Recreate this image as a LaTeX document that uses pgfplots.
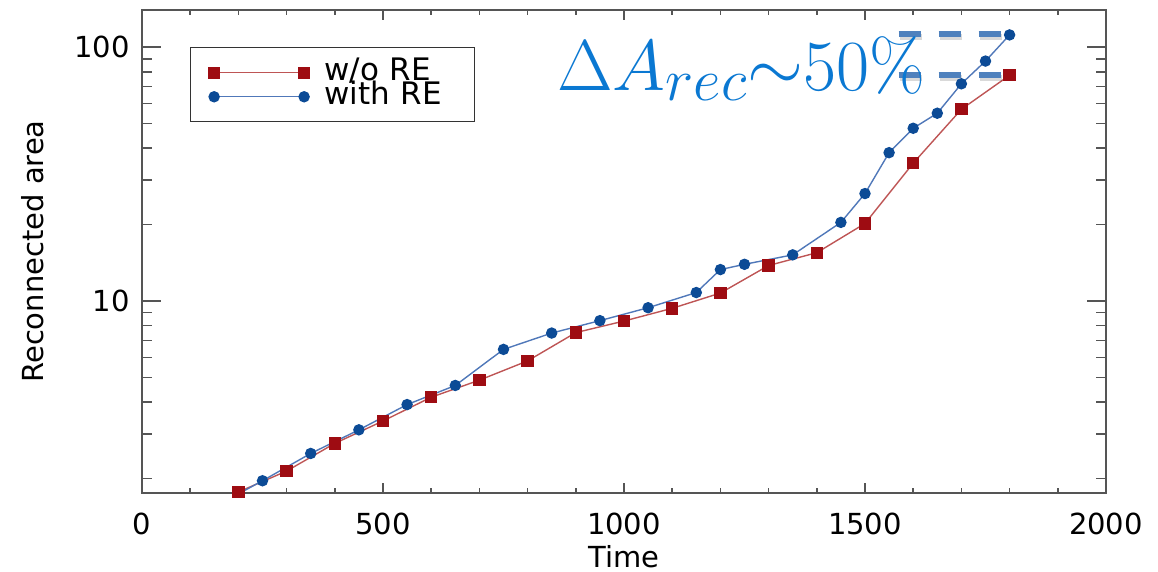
\documentclass[border=0pt]{standalone}
\usepackage{graphicx}
\usepackage{pgfplots}
\pgfplotsset{compat=1.18}
\usepackage[no-math]{fontspec}
\setmainfont{DejaVu Sans}
\definecolor{redm}{RGB}{158,12,18}
\definecolor{redl}{RGB}{190,85,85}
\definecolor{bluem}{RGB}{12,75,150}
\definecolor{bluel}{RGB}{80,120,185}
\definecolor{annot}{RGB}{10,120,210}
\definecolor{dashc}{RGB}{79,129,189}
\definecolor{axc}{RGB}{85,85,85}
\begin{document}
\begin{tikzpicture}
\path[use as bounding box] (-71pt,-39.5pt) rectangle (508pt,246.5pt);
\begin{axis}[
  at={(0pt,0pt)}, anchor=south west,
  width=482pt, height=241.5pt, scale only axis,
  ymode=log, xmin=0, xmax=2000, ymin=1.754, ymax=140,
  xtick={0,500,1000,1500,2000},
  minor xtick={100,200,300,400,600,700,800,900,1100,1200,1300,1400,1600,1700,1800,1900},
  ytick={10,100}, yticklabels={10,100},
  minor ytick={2,3,4,5,6,7,8,9,20,30,40,50,60,70,80,90},
  tick align=inside,
  axis line style={axc, line width=0.8pt},
  every tick/.style={axc, line width=0.8pt},
  major tick length=9.6pt, minor tick length=5pt,
  xtick style={/pgfplots/major tick length=5pt, /pgfplots/minor tick length=2.5pt},
  /pgf/number format/assume math mode=true,
  /pgf/number format/1000 sep={},
  tick label style={font=\fontsize{14.5}{17}\selectfont, inner sep=3pt},
  xticklabel style={yshift=-7pt},
  yticklabel style={xshift=-3pt},
  xlabel={Time}, ylabel={Reconnected area},
  label style={font=\fontsize{14.5}{17}\selectfont, inner sep=0pt},
  xlabel style={at={(axis description cs:0.5,0)}, anchor=north, yshift=-26pt},
  ylabel style={at={(axis description cs:-0.113,0.5)}, anchor=center},
  legend style={at={(rel axis cs:0.0498,0.923)}, anchor=north west,
    draw=black!80, line width=0.6pt, fill=white,
    inner xsep=9pt, inner ysep=7.5pt,
    font=\fontsize{15.5}{15.5}\selectfont, row sep=2pt,
    nodes={inner sep=0pt, text height=9pt, text depth=1pt},
    /tikz/every odd column/.append style={column sep=7.5pt},
    /tikz/every even column/.append style={text width=66pt}},
  legend cell align=left,
  legend image code/.code={
    \draw[black!80, line width=0.6pt] (0pt,0pt) -- (45pt,0pt);
    \path[#1] plot coordinates {(0pt,0pt) (45pt,0pt)};
  },
]
\addplot[redl, line width=0.7pt, mark=square*, mark size=2.75pt,
  mark options={draw=redm, fill=redm, solid}] coordinates {
  (200,1.77) (300,2.14) (400,2.75) (500,3.37) (600,4.18) (700,4.88)
  (800,5.81) (900,7.51) (1000,8.34) (1100,9.36) (1200,10.75) (1300,13.8)
  (1400,15.5) (1500,20.2) (1600,34.9) (1700,56.9) (1800,77.5)};
\addlegendentry{w/o RE}
\addplot[bluel, line width=0.7pt, mark=*, mark size=2.5pt,
  mark options={draw=bluem, fill=bluem, solid}] coordinates {
  (200,1.74) (250,1.96) (350,2.51) (450,3.11) (550,3.91) (650,4.65)
  (750,6.45) (850,7.48) (950,8.37) (1050,9.41) (1150,10.8) (1200,13.3)
  (1250,13.95) (1350,15.2) (1450,20.4) (1500,26.5) (1550,38.4) (1600,47.9)
  (1650,54.9) (1700,71.7) (1750,88.1) (1800,111.7)};
\addlegendentry{with RE}
\draw[black, opacity=0.15, line width=3pt, dash pattern=on 11pt off 9pt, transform canvas={xshift=0.6pt,yshift=-1.5pt}]
  (axis cs:1570,112.5) -- (axis cs:1786,112.5)
  (axis cs:1570,77.6) -- (axis cs:1786,77.6);
\draw[dashc, line width=3pt, dash pattern=on 11pt off 9pt]
  (axis cs:1570,112.5) -- (axis cs:1786,112.5)
  (axis cs:1570,77.6) -- (axis cs:1786,77.6);
\node[anchor=base west, text=annot, inner sep=0pt]
  at (rel axis cs:0.4305,0.834) {\scalebox{1.447}{\fontsize{24.88}{30}\selectfont$\Delta A_{rec}\mathord{\sim}50\%$}};
\end{axis}
\end{tikzpicture}
\end{document}
